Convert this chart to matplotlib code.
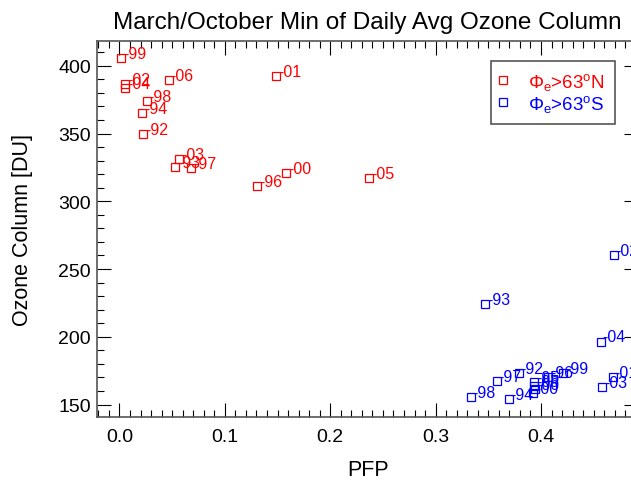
import matplotlib
matplotlib.use('Agg')
from matplotlib import pyplot as plt
from matplotlib.ticker import MultipleLocator

plt.rcParams['font.family'] = ['Liberation Sans', 'DejaVu Sans']
plt.rcParams['mathtext.fontset'] = 'custom'
plt.rcParams['mathtext.rm'] = 'Liberation Sans'
plt.rcParams['mathtext.it'] = 'Liberation Sans'

# northern hemisphere (red)
north_years = ['99', '02', '04', '06', '98', '94', '92', '01', '03', '93', '97', '00', '96', '05']
north_pfp = [0.0019, 0.0057, 0.0057, 0.0469, 0.0260, 0.0215, 0.0225, 0.1490, 0.0569, 0.0531, 0.0683, 0.1584, 0.1309, 0.2369]
north_o3 = [405.7, 386.7, 383.5, 389.5, 374.2, 364.9, 349.6, 392.2, 331.2, 325.5, 324.6, 320.6, 311.5, 317.4]

# southern hemisphere (blue)
south_years = ['02', '93', '04', '92', '97', '98', '94', '01', '03', '96', '99', '95', '05', '06', '00']
south_pfp = [0.469, 0.3473, 0.4567, 0.379, 0.358, 0.3334, 0.3694, 0.468, 0.4583, 0.407, 0.421, 0.3935, 0.3935, 0.394, 0.3925]
south_o3 = [260.2, 224.0, 196.5, 173.6, 167.3, 155.2, 154.0, 170.4, 163.0, 170.6, 173.2, 166.3, 164.0, 161.5, 158.5]

fig = plt.figure(figsize=(6.31, 4.81), dpi=100)
ax = fig.add_axes([97.3/631, 1-417.7/481, (638-97.3)/631, (417.7-41.7)/481])

for pfp, o3, yrs, col, lab in [(north_pfp, north_o3, north_years, '#ff0000', 'Φ$_{\\rm e}$>63$^{\\rm o}$N'),
                                (south_pfp, south_o3, south_years, '#0000ff', 'Φ$_{\\rm e}$>63$^{\\rm o}$S')]:
    ax.plot(pfp, o3, ls='none', marker='s', ms=5.5, mfc='none', mec=col, mew=0.9, label=lab)
    for x, y, t in zip(pfp, o3, yrs):
        ax.annotate('-' + t, (x, y), xytext=(1.2, 0), textcoords='offset points',
                    ha='left', va='baseline', color=col, fontsize=11.5, clip_on=False)

ax.set_xlim(-0.021, 0.492)
ax.set_ylim(141, 418.5)
ax.xaxis.set_major_locator(MultipleLocator(0.1))
ax.xaxis.set_minor_locator(MultipleLocator(0.01))
ax.yaxis.set_major_locator(MultipleLocator(50))
ax.yaxis.set_minor_locator(MultipleLocator(10))
ax.xaxis.set_major_formatter(plt.FuncFormatter(lambda v, p: '%.1f' % v))
ax.tick_params(which='both', direction='in', top=True, right=True, width=0.8, color='black', labelsize=14)
ax.tick_params(which='major', length=10)
ax.tick_params(which='minor', length=5)
ax.tick_params(axis='x', pad=8)
ax.tick_params(axis='y', pad=4.5)
for s in ax.spines.values():
    s.set_color('#555555')
    s.set_linewidth(1.2)

ax.set_title('March/October Min of Daily Avg Ozone Column', fontsize=17.5, pad=9)
ax.set_xlabel('PFP', fontsize=15.5, labelpad=10)
ax.set_ylabel('Ozone Column [DU]', fontsize=15.5, labelpad=18)

leg = ax.legend(loc='upper left', bbox_to_anchor=((490.7-97.3)/540.7, 1-(61.7-41.7)/376),
                fontsize=13.5, labelcolor=['#ff0000', '#0000ff'], frameon=True, fancybox=False,
                edgecolor='#555555', framealpha=1, handlelength=0.2, handletextpad=1.25,
                borderpad=0.55, labelspacing=0.05, borderaxespad=0)
leg.get_frame().set_linewidth(1.2)

fig.savefig('out.png', dpi=100)
